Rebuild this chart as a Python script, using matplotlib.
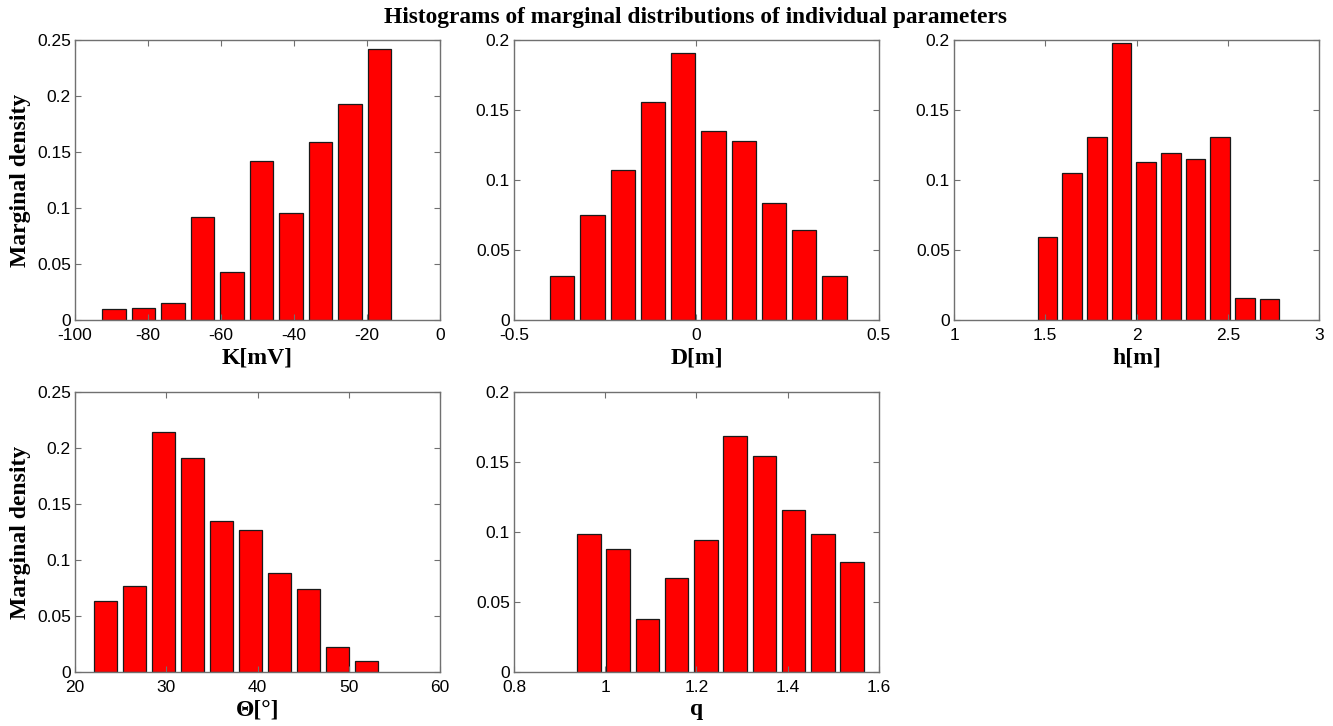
import numpy as np
import matplotlib.pyplot as plt

# bin centres and marginal densities
K_centers = np.linspace(-89.3, -16.6, 10)
K_dens = [0.0101, 0.0107, 0.0148, 0.092, 0.0433, 0.142, 0.0959, 0.159, 0.193, 0.242]

D_centers = np.linspace(-0.368, 0.378, 10)
D_dens = [0.0314, 0.0748, 0.107, 0.156, 0.191, 0.135, 0.1276, 0.0836, 0.0644, 0.0314]

h_centers = np.linspace(1.512, 2.729, 10)
h_dens = [0.0591, 0.105, 0.1306, 0.198, 0.1126, 0.1195, 0.1147, 0.131, 0.0154, 0.0147]

T_centers = np.linspace(23.37, 51.97, 10)
T_dens = [0.0632, 0.0772, 0.214, 0.1906, 0.135, 0.127, 0.0882, 0.0745, 0.022, 0.0098]

q_centers = np.linspace(0.964, 1.541, 10)
q_dens = [0.0983, 0.0879, 0.0382, 0.067, 0.0943, 0.1684, 0.1546, 0.1159, 0.0983, 0.0784]

panels = [
    (K_centers, K_dens, 'K[mV]', (-100, 0), np.arange(-100, 1, 20), 0.25, [0, 0.05, 0.1, 0.15, 0.2, 0.25], True),
    (D_centers, D_dens, 'D[m]', (-0.5, 0.5), [-0.5, 0, 0.5], 0.2, [0, 0.05, 0.1, 0.15, 0.2], False),
    (h_centers, h_dens, 'h[m]', (1, 3), [1, 1.5, 2, 2.5, 3], 0.2, [0, 0.05, 0.1, 0.15, 0.2], False),
    (T_centers, T_dens, 'Θ[°]', (20, 60), [20, 30, 40, 50, 60], 0.25, [0, 0.05, 0.1, 0.15, 0.2, 0.25], True),
    (q_centers, q_dens, 'q', (0.8, 1.6), [0.8, 1, 1.2, 1.4, 1.6], 0.2, [0, 0.05, 0.1, 0.15, 0.2], False),
]

# axes boxes in figure fractions
lefts = [0.0563, 0.3856, 0.7157, 0.0563, 0.3856]
bottoms = [0.5592, 0.5592, 0.5592, 0.0744, 0.0744]

fig = plt.figure(figsize=(13.33, 7.26), dpi=100)
serif = 'Liberation Serif'
sans = 'Liberation Sans'

for k, (cx, dens, xl, xlim, xt, ytop, yt, show_ylab) in enumerate(panels):
    ax = fig.add_axes([lefts[k], bottoms[k], 0.2738, 0.3857])
    step = cx[1] - cx[0]
    ax.bar(cx, dens, width=0.8 * step, color='#ff0000', edgecolor='#1a1a1a', linewidth=0.9)
    ax.set_xlim(*xlim)
    ax.set_ylim(0, ytop)
    ax.set_xticks(xt)
    ax.set_yticks(yt)
    ax.set_xticklabels(['%g' % v for v in xt], fontfamily=sans, fontsize=12.5)
    ax.set_yticklabels(['%g' % v for v in yt], fontfamily=sans, fontsize=12.5)
    ax.tick_params(direction='in', top=True, right=True, length=4, color='#707070')
    ax.tick_params(axis='x', pad=6)
    ax.tick_params(axis='y', pad=3)
    for sp in ax.spines.values():
        sp.set_color('#707070')
        sp.set_linewidth(1.0)
    ax.set_xlabel(xl, fontfamily=serif, fontweight='bold', fontsize=17, labelpad=3)
    if show_ylab:
        ax.set_ylabel('Marginal density', fontfamily=serif, fontweight='bold', fontsize=17, labelpad=4)

fig.text(0.522, 0.976, 'Histograms of marginal distributions of individual parameters',
         ha='center', va='center', fontfamily=serif, fontweight='bold', fontsize=16.8)

plt.savefig('out.png', dpi=100)
